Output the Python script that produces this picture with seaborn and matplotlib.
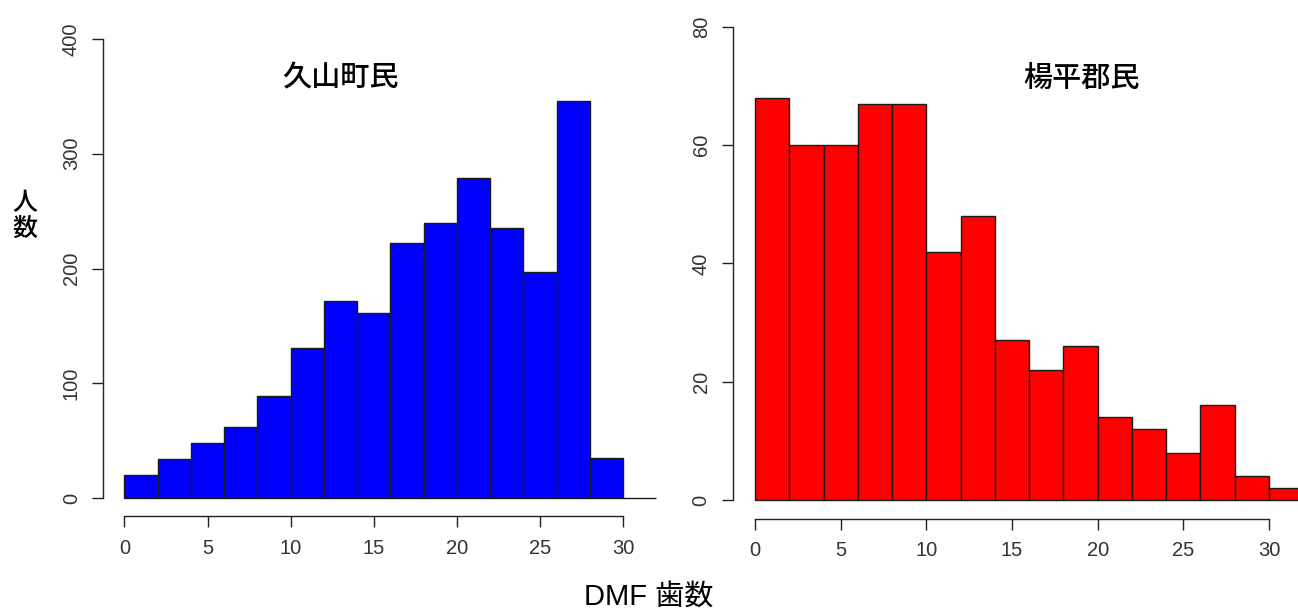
import numpy as np
import pandas as pd
import matplotlib
matplotlib.use("Agg")
import matplotlib.pyplot as plt
import seaborn as sns

# ---- data ----
bin_edges = [0, 2, 4, 6, 8, 10, 12, 14, 16, 18, 20, 22, 24, 26, 28, 30, 32]
hisayama_counts = [20, 34, 48, 62, 89, 131, 172, 161, 222, 240, 279, 235, 197, 346, 35, 0]
yangpyeong_counts = [68, 60, 60, 67, 67, 42, 48, 27, 22, 26, 14, 12, 8, 16, 4, 2]
left_title = "久山町民"
right_title = "楊平郡民"
x_label = "DMF 歯数"
y_label = "人\n数"
x_ticks = [0, 5, 10, 15, 20, 25, 30]
left_y_ticks = [0, 100, 200, 300, 400]
right_y_ticks = [0, 20, 40, 60, 80]

sns.set_theme(style="white")
plt.rcParams['font.family'] = ['Liberation Sans', 'Noto Sans CJK JP', 'DejaVu Sans']
plt.rcParams['text.color'] = 'black'

W, H = 1298, 615
fig = plt.figure(figsize=(W / 100, H / 100), dpi=100)

def px_axes(left, top, right, bottom):
    return fig.add_axes([left / W, (H - bottom) / H, (right - left) / W, (bottom - top) / H])

ax1 = px_axes(103.2, 20.6, 677.6, 516.4)
ax2 = px_axes(733.1, 7.8, 1325.2, 518.9)

centers = [(a + b) / 2 for a, b in zip(bin_edges[:-1], bin_edges[1:])]

def draw(ax, counts, color, yticks, ymax):
    df = pd.DataFrame({"x": centers, "w": counts})
    sns.histplot(data=df, x="x", weights="w", bins=bin_edges, ax=ax,
                 color=color, alpha=1, edgecolor="#1a1a1a", linewidth=1.0)
    ax.set_xlim(-1.28, 33.28)
    ax.set_ylim(-0.04 * ymax, 1.04 * ymax)
    ax.set_xticks(x_ticks)
    ax.set_yticks(yticks)
    ax.set_xlabel("")
    ax.set_ylabel("")
    for s in ["top", "right"]:
        ax.spines[s].set_visible(False)
    ax.spines["left"].set_bounds(yticks[0], yticks[-1])
    ax.spines["bottom"].set_bounds(x_ticks[0], x_ticks[-1])
    for s in ["left", "bottom"]:
        ax.spines[s].set_color("#222222")
        ax.spines[s].set_linewidth(1.0)
    ax.tick_params(axis="both", direction="out", length=8, width=1.0,
                   color="#222222", labelsize=14.5, labelcolor="#333333",
                   bottom=True, left=True)
    ax.tick_params(axis="x", pad=8)
    ax.tick_params(axis="y", pad=15)
    plt.setp(ax.get_yticklabels(), rotation=90, va="center", ha="center")
    ax.set_facecolor("none")

draw(ax1, hisayama_counts, "#0000FF", left_y_ticks, 400)
draw(ax2, yangpyeong_counts, "#FF0000", right_y_ticks, 80)

fig.text(340 / W, 1 - 78 / H, left_title, ha="center", va="center",
         fontsize=21, fontweight="medium", family=['Noto Sans CJK JP'])
fig.text(1082 / W, 1 - 78 / H, right_title, ha="center", va="center",
         fontsize=21, fontweight="medium", family=['Noto Sans CJK JP'])
fig.text(25 / W, 1 - 216 / H, y_label, ha="center", va="center",
         fontsize=18, fontweight="medium", family=['Noto Sans CJK JP'], linespacing=1.0)
fig.text(649 / W, 1 - 598 / H, x_label, ha="center", va="center",
         fontsize=21, family=['Liberation Sans', 'Noto Sans CJK JP'])

fig.savefig("out.png", dpi=100, facecolor="white")
